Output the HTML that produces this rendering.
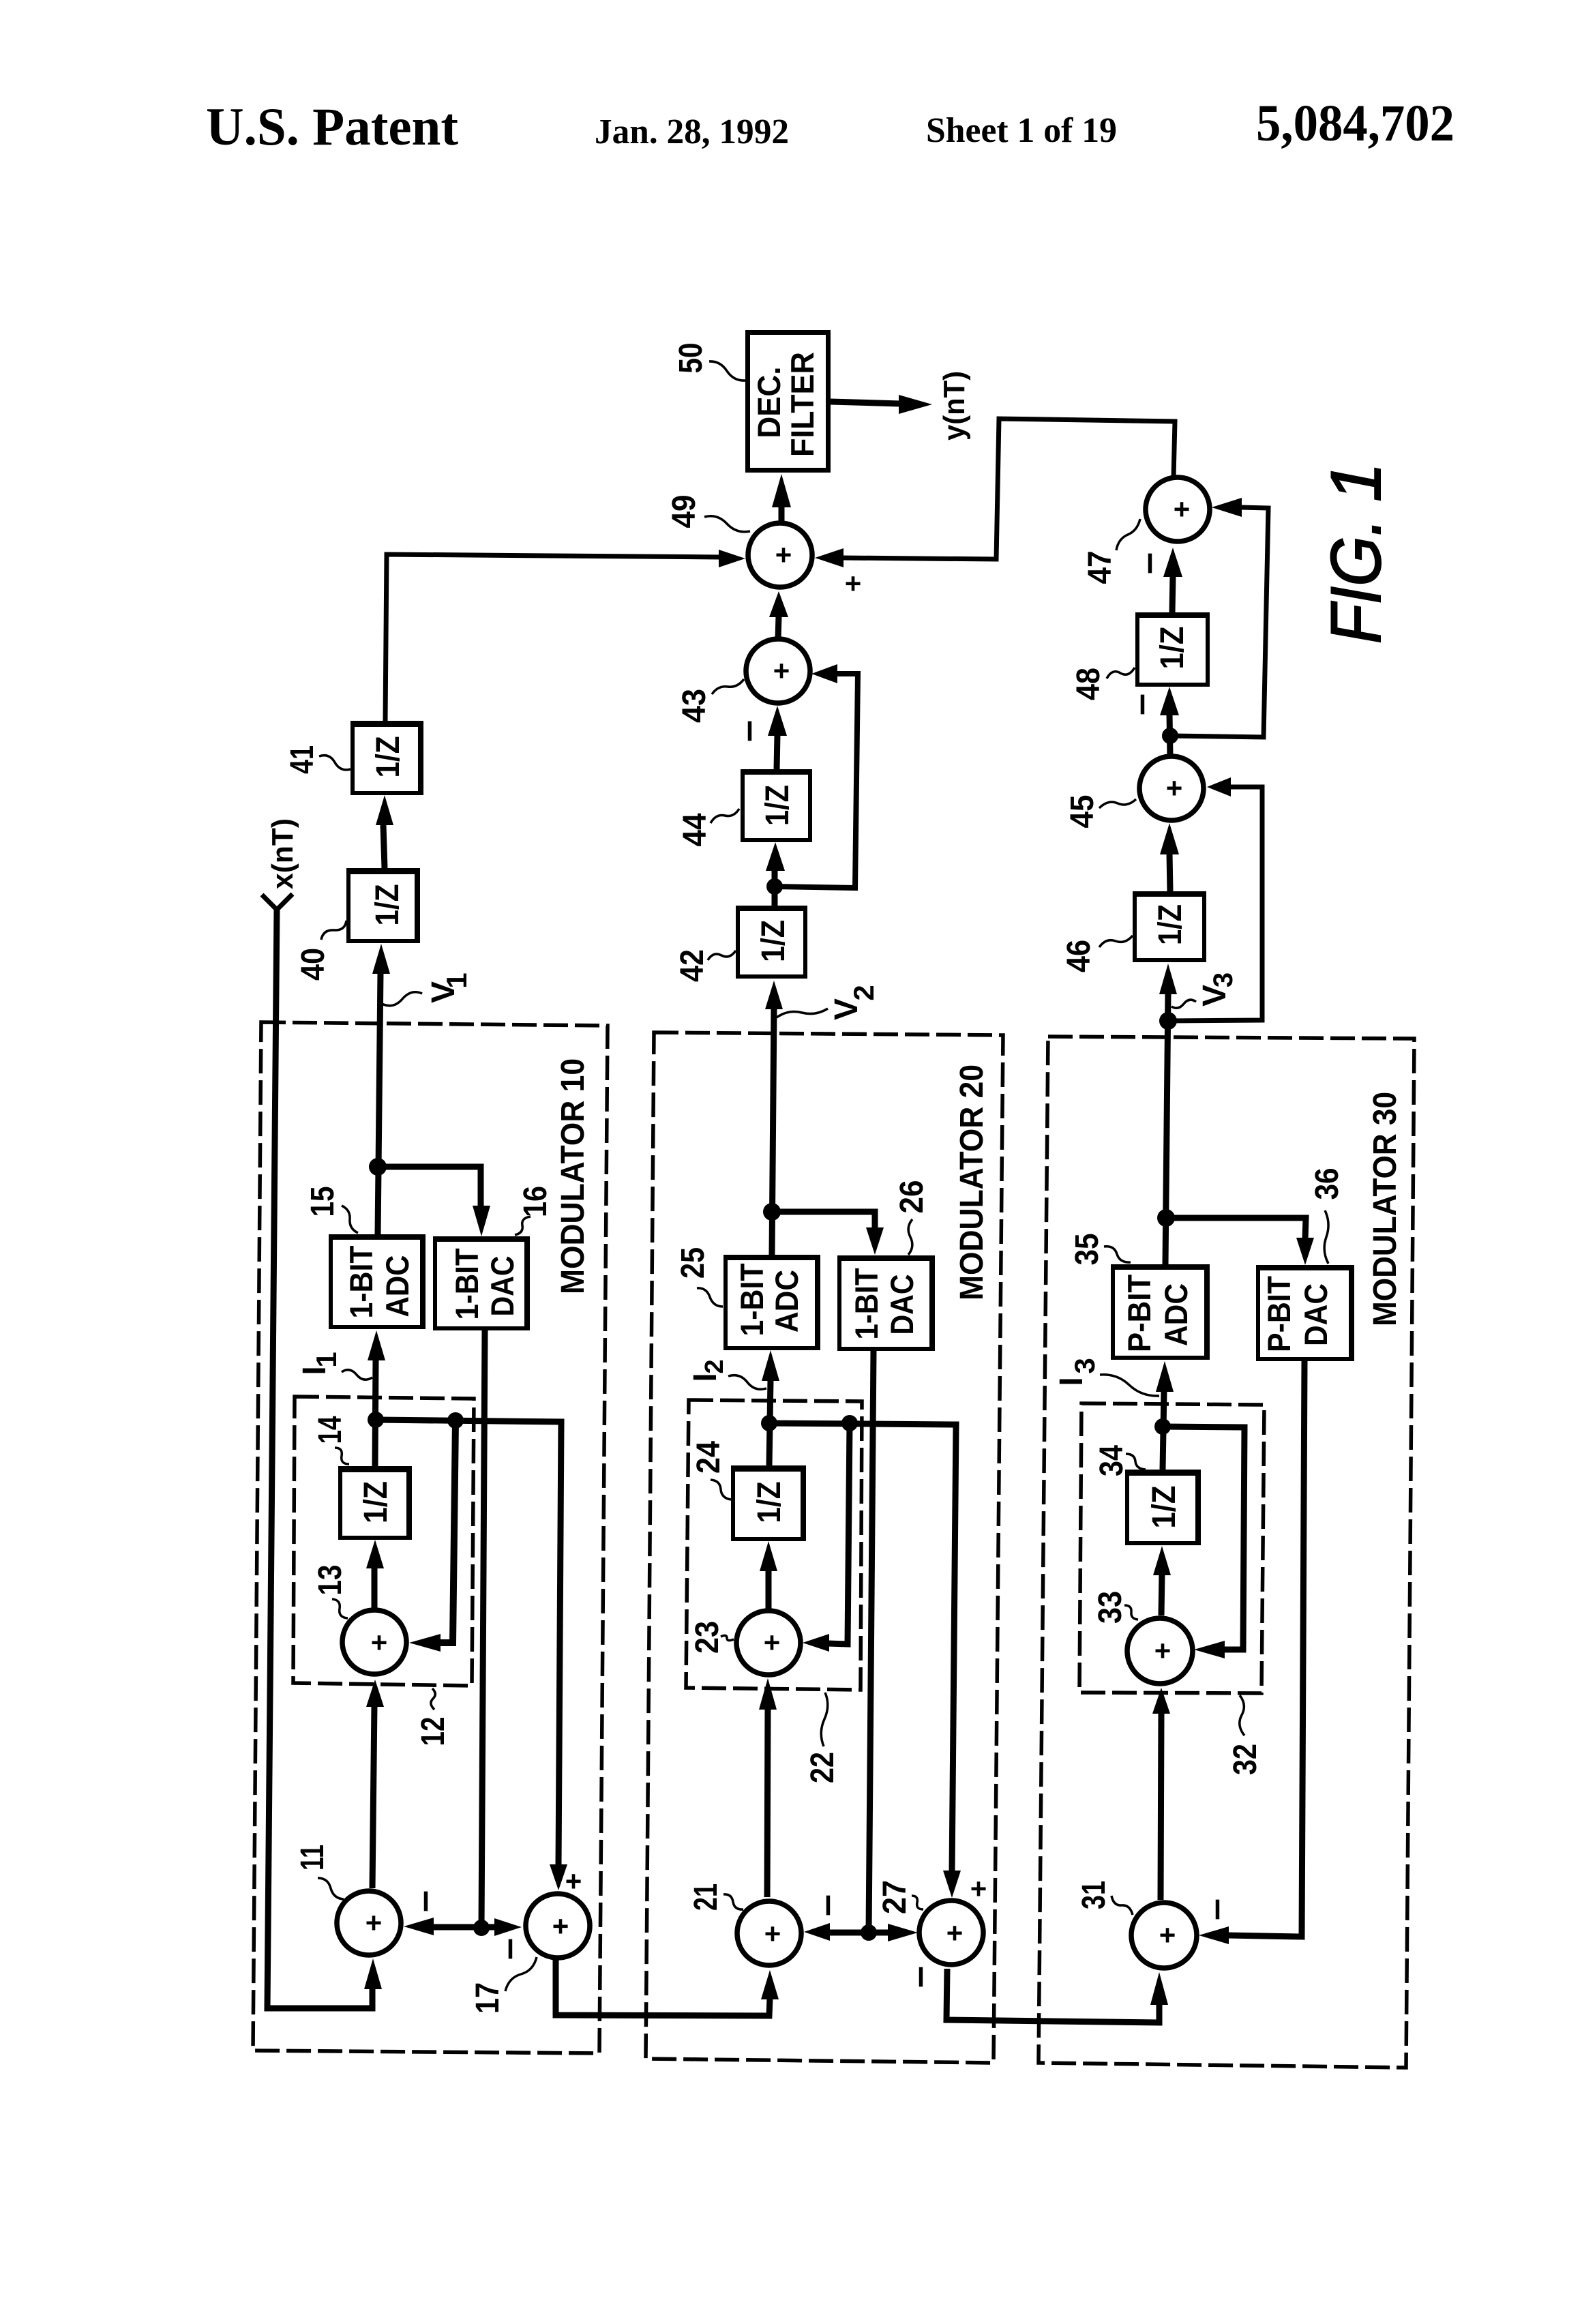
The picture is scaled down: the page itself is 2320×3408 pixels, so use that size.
<!DOCTYPE html>
<html><head><meta charset="utf-8"><title>U.S. Patent 5,084,702 Sheet 1</title>
<style>
html,body{margin:0;padding:0;background:#fff}
svg{display:block}
text{font-family:"Liberation Sans",sans-serif;font-weight:700;fill:#000;text-anchor:middle}
.h{font-family:"Liberation Serif",serif;text-anchor:start}
.n{font-size:48px}
.b{font-size:47px}
.z{font-size:48px}
.m{font-size:56px;font-weight:400;stroke:#000;stroke-width:1.5}
.p{font-size:42px}
.w{fill:none;stroke:#000;stroke-width:9;stroke-linejoin:miter}
.t{fill:none;stroke:#000;stroke-width:7;stroke-linejoin:miter}
.d{fill:none;stroke:#000;stroke-width:5.5;stroke-dasharray:36 10}
.s{fill:none;stroke:#000;stroke-width:3.5}
.c{fill:#fff;stroke:#000;stroke-width:7.5}
</style></head><body>
<svg xmlns="http://www.w3.org/2000/svg" width="2320" height="3408" viewBox="0 0 2320 3408">
<rect width="2320" height="3408" fill="#fff"/>

<!-- header -->
<text class="h" x="302" y="212" font-size="78" textLength="370" lengthAdjust="spacingAndGlyphs">U.S. Patent</text>
<text class="h" x="872" y="210" font-size="52" textLength="285" lengthAdjust="spacingAndGlyphs">Jan. 28, 1992</text>
<text class="h" x="1358" y="208" font-size="52" textLength="280" lengthAdjust="spacingAndGlyphs">Sheet 1 of 19</text>
<text class="h" x="1842" y="206" font-size="76" textLength="291" lengthAdjust="spacingAndGlyphs">5,084,702</text>

<!-- dashed boxes -->
<polygon class="d" points="383,1499 891,1504 879,3011 371,3007"/>
<polygon class="d" points="432,2048 695,2051 692,2472 430,2468"/>
<polygon class="d" points="959,1514 1471,1518 1457,3025 947,3019"/>
<polygon class="d" points="1010,2053 1264,2055 1262,2478 1006,2475"/>
<polygon class="d" points="1537,1520 2074,1523 2062,3032 1523,3025"/>
<polygon class="d" points="1586,2058 1854,2060 1850,2483 1583,2482"/>

<!-- x(nT) input -->
<polyline class="t" points="384,1312 406,1334 429,1311"/>
<polyline class="w" points="406,1332 392,2945 546,2945 546,2910"/>
<polygon points="547,2872 534,2917 560,2917"/>
<text transform="translate(429,1252) rotate(-90)" font-size="44" textLength="104" lengthAdjust="spacingAndGlyphs">x(nT)</text>

<!-- modulator 10 lines -->
<polyline class="w" points="546,2769 549,2500"/>
<polygon points="550,2463 537,2503 563,2503"/>
<polyline class="w" points="549,2358 549,2298"/>
<polygon points="550,2258 537,2300 563,2300"/>
<polyline class="w" points="550,2150 551,1993"/>
<polygon points="552,1951 539,1995 565,1995"/>
<polyline class="w" points="554,1810 558,1426"/>
<polygon points="559,1384 546,1428 572,1428"/>
<polyline class="w" points="554,1711 705,1711 705,1770"/>
<polygon points="706,1813 693,1768 719,1768"/>
<polyline class="w" points="551,2082 823,2085 819,2736"/>
<polygon points="819,2772 806,2734 832,2734"/>
<polyline class="w" style="stroke-width:10" points="668,2083 664,2409 644,2409"/>
<polygon points="600,2409 646,2396 646,2422"/>
<polyline class="w" points="711,1951 706,2827"/>
<polyline class="w" points="634,2826 727,2826"/>
<polygon points="592,2825 636,2812 636,2838"/>
<polygon points="765,2826 725,2813 725,2839"/>
<polyline class="w" points="815,2874 815,2955 1128,2956 1129,2930"/>
<polygon points="1129,2889 1116,2932 1142,2932"/>
<polyline class="w" points="562,1210 564,1273"/>
<polygon points="564,1166 551,1210 577,1210"/>
<polyline class="t" points="565,1057 567,813 1056,817"/>
<polygon points="1093,819 1054,806 1054,832"/>
<circle cx="554" cy="1711" r="13"/><circle cx="551" cy="2082" r="12"/><circle cx="668" cy="2083" r="12"/><circle cx="706" cy="2827" r="12"/>

<!-- modulator 20 lines -->
<polyline class="w" points="1125,2782 1126,2505"/>
<polygon points="1126,2461 1113,2507 1139,2507"/>
<polyline class="w" points="1127,2360 1127,2302"/>
<polygon points="1127,2260 1114,2304 1140,2304"/>
<polyline class="w" points="1128,2149 1130,2023"/>
<polygon points="1130,1980 1117,2025 1143,2025"/>
<polyline class="w" points="1132,1840 1135,1478"/>
<polygon points="1135,1438 1122,1480 1148,1480"/>
<polyline class="w" points="1132,1777 1283,1777 1283,1802"/>
<polygon points="1283,1840 1270,1800 1296,1800"/>
<polyline class="w" points="1128,2087 1402,2089 1396,2745"/>
<polygon points="1396,2783 1383,2743 1409,2743"/>
<polyline class="w" points="1246,2087 1243,2411 1214,2410"/>
<polygon points="1177,2409 1216,2396 1216,2422"/>
<polyline class="w" points="1281,1981 1274,2834"/>
<polyline class="w" points="1215,2834 1304,2834"/>
<polygon points="1179,2833 1217,2820 1217,2846"/>
<polygon points="1346,2834 1302,2821 1302,2847"/>
<polyline class="w" points="1389,2887 1388,2962 1700,2966 1700,2938"/>
<polygon points="1700,2892 1687,2940 1713,2940"/>
<circle cx="1132" cy="1777" r="13"/><circle cx="1128" cy="2087" r="12"/><circle cx="1246" cy="2087" r="12"/><circle cx="1274" cy="2834" r="12"/>

<!-- modulator 30 lines -->
<polyline class="w" points="1702,2786 1703,2511"/>
<polygon points="1703,2475 1690,2513 1716,2513"/>
<polyline class="w" points="1703,2369 1704,2308"/>
<polygon points="1704,2267 1691,2310 1717,2310"/>
<polyline class="w" points="1705,2155 1707,2039"/>
<polygon points="1708,1996 1695,2041 1721,2041"/>
<polyline class="w" points="1709,1854 1713,1456"/>
<polygon points="1713,1413 1700,1458 1726,1458"/>
<polyline class="w" points="1710,1786 1915,1786 1914,1817"/>
<polygon points="1914,1855 1901,1815 1927,1815"/>
<polyline class="w" points="1705,2092 1825,2093 1823,2419 1794,2419"/>
<polygon points="1751,2419 1796,2406 1796,2432"/>
<polyline class="w" points="1913,1996 1909,2840 1800,2838"/>
<polygon points="1758,2838 1802,2825 1802,2851"/>
<polyline class="t" points="1713,1497 1851,1496 1851,1154 1803,1154"/>
<polygon points="1770,1154 1805,1140 1805,1168"/>
<circle cx="1710" cy="1786" r="13"/><circle cx="1713" cy="1497" r="13"/><circle cx="1705" cy="2092" r="12"/>

<!-- output section lines -->
<polyline class="w" points="1146,770 1146,742"/>
<polygon points="1146,695 1132,744 1160,744"/>
<polyline class="w" points="1218,589 1320,592"/>
<polygon points="1367,593 1318,579 1318,607"/>
<polyline class="t" points="1235,818 1461,820 1465,614 1723,618 1721,700"/>
<polygon points="1195,818 1237,804 1237,832"/>
<polyline class="w" points="1141,938 1142,903"/>
<polygon points="1142,867 1128,905 1156,905"/>
<polyline class="t" style="stroke-width:8" points="1226,988 1258,988 1254,1302 1136,1300"/>
<polygon points="1190,988 1228,974 1228,1002"/>
<polyline class="w" points="1136,1328 1136,1275"/>
<polygon points="1137,1235 1123,1277 1151,1277"/>
<polyline class="w" points="1139,1128 1140,1077"/>
<polygon points="1140,1035 1126,1079 1154,1079"/>
<circle cx="1136" cy="1300" r="12"/>
<polyline class="t" points="1819,744 1860,745 1853,1081 1716,1079"/>
<polygon points="1777,744 1821,730 1821,758"/>
<polyline class="w" points="1719,898 1720,844"/>
<polygon points="1720,803 1706,846 1734,846"/>
<polyline class="w" points="1716,1110 1715,1047"/>
<polygon points="1715,1007 1701,1049 1729,1049"/>
<polyline class="w" points="1716,1307 1715,1251"/>
<polygon points="1715,1207 1701,1253 1729,1253"/>
<circle cx="1716" cy="1079" r="12"/>

<!-- blocks -->
<g>
<rect x="482" y="1810" width="142" height="139"/><rect x="488" y="1818" width="128" height="125" fill="#fff"/>
<rect x="635" y="1813" width="142" height="138"/><rect x="641" y="1821" width="128" height="124" fill="#fff"/>
<rect x="496" y="2150" width="108" height="108"/><rect x="502" y="2159" width="94" height="93" fill="#fff"/>
<rect x="508" y="1273" width="108" height="110"/><rect x="514" y="1282" width="94" height="95" fill="#fff"/>
<rect x="514" y="1057" width="107" height="109"/><rect x="520" y="1066" width="93" height="94" fill="#fff"/>
<rect x="1061" y="1840" width="142" height="140"/><rect x="1067" y="1848" width="128" height="126" fill="#fff"/>
<rect x="1228" y="1841" width="143" height="140"/><rect x="1234" y="1849" width="129" height="126" fill="#fff"/>
<rect x="1072" y="2149" width="110" height="111"/><rect x="1078" y="2158" width="96" height="96" fill="#fff"/>
<rect x="1629" y="1854" width="145" height="140"/><rect x="1635" y="1862" width="131" height="126" fill="#fff"/>
<rect x="1842" y="1855" width="144" height="141"/><rect x="1848" y="1863" width="130" height="127" fill="#fff"/>
<rect x="1650" y="2155" width="111" height="111"/><rect x="1656" y="2164" width="97" height="96" fill="#fff"/>
<rect x="1093" y="484" width="125" height="209"/><rect x="1100" y="491" width="111" height="195" fill="#fff"/>
<rect x="1086" y="1128" width="105" height="107"/><rect x="1092" y="1136" width="93" height="93" fill="#fff"/>
<rect x="1079" y="1328" width="105" height="107"/><rect x="1085" y="1336" width="93" height="93" fill="#fff"/>
<rect x="1665" y="898" width="109" height="109"/><rect x="1671" y="906" width="97" height="95" fill="#fff"/>
<rect x="1661" y="1307" width="108" height="104"/><rect x="1667" y="1315" width="96" height="90" fill="#fff"/>
</g>

<!-- block text -->
<text class="b" transform="translate(546,1880) rotate(-90)" textLength="107" lengthAdjust="spacingAndGlyphs">1-BIT</text>
<text class="b" transform="translate(599,1886) rotate(-90)" textLength="91" lengthAdjust="spacingAndGlyphs">ADC</text>
<text class="b" transform="translate(701,1883) rotate(-90)" textLength="105" lengthAdjust="spacingAndGlyphs">1-BIT</text>
<text class="b" transform="translate(753,1886) rotate(-90)" textLength="89" lengthAdjust="spacingAndGlyphs">DAC</text>
<text class="z" transform="translate(567,2203) rotate(-90)" textLength="62" lengthAdjust="spacingAndGlyphs">1/Z</text>
<text class="z" transform="translate(584,1327) rotate(-90)" textLength="61" lengthAdjust="spacingAndGlyphs">1/Z</text>
<text class="z" transform="translate(585,1110) rotate(-90)" textLength="61" lengthAdjust="spacingAndGlyphs">1/Z</text>
<text class="b" transform="translate(1119,1906) rotate(-90)" textLength="107" lengthAdjust="spacingAndGlyphs">1-BIT</text>
<text class="b" transform="translate(1170,1908) rotate(-90)" textLength="92" lengthAdjust="spacingAndGlyphs">ADC</text>
<text class="b" transform="translate(1287,1912) rotate(-90)" textLength="105" lengthAdjust="spacingAndGlyphs">1-BIT</text>
<text class="b" transform="translate(1339,1913) rotate(-90)" textLength="89" lengthAdjust="spacingAndGlyphs">DAC</text>
<text class="z" transform="translate(1144,2203) rotate(-90)" textLength="61" lengthAdjust="spacingAndGlyphs">1/Z</text>
<text class="b" transform="translate(1687,1926) rotate(-90)" textLength="114" lengthAdjust="spacingAndGlyphs">P-BIT</text>
<text class="b" transform="translate(1741,1928) rotate(-90)" textLength="92" lengthAdjust="spacingAndGlyphs">ADC</text>
<text class="b" transform="translate(1892,1927) rotate(-90)" textLength="112" lengthAdjust="spacingAndGlyphs">P-BIT</text>
<text class="b" transform="translate(1946,1928) rotate(-90)" textLength="92" lengthAdjust="spacingAndGlyphs">DAC</text>
<text class="z" transform="translate(1723,2210) rotate(-90)" textLength="63" lengthAdjust="spacingAndGlyphs">1/Z</text>
<text class="b" transform="translate(1144,590) rotate(-90)" textLength="105" lengthAdjust="spacingAndGlyphs">DEC.</text>
<text class="b" transform="translate(1193,593) rotate(-90)" textLength="154" lengthAdjust="spacingAndGlyphs">FILTER</text>
<text class="z" transform="translate(1156,1181) rotate(-90)" textLength="60" lengthAdjust="spacingAndGlyphs">1/Z</text>
<text class="z" transform="translate(1150,1380) rotate(-90)" textLength="62" lengthAdjust="spacingAndGlyphs">1/Z</text>
<text class="z" transform="translate(1735,950) rotate(-90)" textLength="63" lengthAdjust="spacingAndGlyphs">1/Z</text>
<text class="z" transform="translate(1732,1356) rotate(-90)" textLength="60" lengthAdjust="spacingAndGlyphs">1/Z</text>

<text transform="translate(856,1725) rotate(-90)" font-size="48" textLength="346" lengthAdjust="spacingAndGlyphs">MODULATOR 10</text>
<text transform="translate(1441,1734) rotate(-90)" font-size="48" textLength="346" lengthAdjust="spacingAndGlyphs">MODULATOR 20</text>
<text transform="translate(2047,1773) rotate(-90)" font-size="48" textLength="344" lengthAdjust="spacingAndGlyphs">MODULATOR 30</text>
<text transform="translate(1414,595) rotate(-90)" font-size="44" textLength="102" lengthAdjust="spacingAndGlyphs">y(nT)</text>
<text transform="translate(2024,852) rotate(-90)" font-size="104" font-style="italic" style="font-weight:400;stroke:#000;stroke-width:2" textLength="184" lengthAdjust="spacingAndGlyphs">FIG.</text>
<text transform="translate(2024,707) rotate(-90)" font-size="104" font-style="italic" style="font-weight:400;stroke:#000;stroke-width:2">1</text>

<!-- summing junctions -->
<circle class="c" cx="541" cy="2820" r="47"/><circle class="c" cx="549" cy="2408" r="47"/><circle class="c" cx="818" cy="2824" r="47"/>
<circle class="c" cx="1128" cy="2835" r="47"/><circle class="c" cx="1395" cy="2834" r="47"/><circle class="c" cx="1127" cy="2409" r="47"/>
<circle class="c" cx="1707" cy="2838" r="48"/><circle class="c" cx="1701" cy="2421" r="48"/>
<circle class="c" cx="1144" cy="814" r="47"/><circle class="c" cx="1141" cy="984" r="47"/><circle class="c" cx="1727" cy="747" r="47"/><circle class="c" cx="1718" cy="1156" r="47"/>
<text class="p" x="548" y="2834">+</text><text class="p" x="556" y="2423">+</text><text class="p" x="822" y="2839">+</text>
<text class="p" x="1133" y="2850">+</text><text class="p" x="1400" y="2849">+</text><text class="p" x="1132" y="2423">+</text>
<text class="p" x="1712" y="2852">+</text><text class="p" x="1705" y="2435">+</text>
<text class="p" x="1149" y="828">+</text><text class="p" x="1146" y="998">+</text><text class="p" x="1733" y="761">+</text><text class="p" x="1722" y="1170">+</text>

<!-- signs -->
<text class="p" x="841" y="2773">+</text><text class="p" x="1435" y="2784">+</text><text class="p" x="1251" y="870">+</text>
<text class="m" transform="translate(643,2788) rotate(-90)">−</text>
<text class="m" transform="translate(767,2858) rotate(-90)">−</text>
<text class="m" transform="translate(1233,2794) rotate(-90)">−</text>
<text class="m" transform="translate(1369,2899) rotate(-90)">−</text>
<text class="m" transform="translate(1804,2800) rotate(-90)">−</text>
<text class="m" transform="translate(1118,1072) rotate(-90)">−</text>
<text class="m" transform="translate(1705,826) rotate(-90)">−</text>
<text class="m" transform="translate(1694,1033) rotate(-90)">−</text>

<!-- reference numerals -->
<text class="n" transform="translate(474,2724) rotate(-90)" textLength="38" lengthAdjust="spacingAndGlyphs">11</text>
<text class="n" transform="translate(651,2539) rotate(-90)" textLength="43" lengthAdjust="spacingAndGlyphs">12</text>
<text class="n" transform="translate(500,2317) rotate(-90)" textLength="45" lengthAdjust="spacingAndGlyphs">13</text>
<text class="n" transform="translate(500,2097) rotate(-90)" textLength="41" lengthAdjust="spacingAndGlyphs">14</text>
<text class="n" transform="translate(489,1762) rotate(-90)" textLength="45" lengthAdjust="spacingAndGlyphs">15</text>
<text class="n" transform="translate(801,1762) rotate(-90)" textLength="46" lengthAdjust="spacingAndGlyphs">16</text>
<text class="n" transform="translate(731,2930) rotate(-90)" textLength="46" lengthAdjust="spacingAndGlyphs">17</text>
<text class="n" transform="translate(1051,2782) rotate(-90)" textLength="40" lengthAdjust="spacingAndGlyphs">21</text>
<text class="n" transform="translate(1222,2592) rotate(-90)" textLength="46" lengthAdjust="spacingAndGlyphs">22</text>
<text class="n" transform="translate(1053,2401) rotate(-90)" textLength="48" lengthAdjust="spacingAndGlyphs">23</text>
<text class="n" transform="translate(1055,2137) rotate(-90)" textLength="48" lengthAdjust="spacingAndGlyphs">24</text>
<text class="n" transform="translate(1032,1852) rotate(-90)" textLength="46" lengthAdjust="spacingAndGlyphs">25</text>
<text class="n" transform="translate(1353,1755) rotate(-90)" textLength="49" lengthAdjust="spacingAndGlyphs">26</text>
<text class="n" transform="translate(1328,2782) rotate(-90)" textLength="50" lengthAdjust="spacingAndGlyphs">27</text>
<text class="n" transform="translate(1620,2779) rotate(-90)" textLength="42" lengthAdjust="spacingAndGlyphs">31</text>
<text class="n" transform="translate(1842,2580) rotate(-90)" textLength="46" lengthAdjust="spacingAndGlyphs">32</text>
<text class="n" transform="translate(1644,2357) rotate(-90)" textLength="48" lengthAdjust="spacingAndGlyphs">33</text>
<text class="n" transform="translate(1646,2142) rotate(-90)" textLength="46" lengthAdjust="spacingAndGlyphs">34</text>
<text class="n" transform="translate(1610,1832) rotate(-90)" textLength="47" lengthAdjust="spacingAndGlyphs">35</text>
<text class="n" transform="translate(1962,1736) rotate(-90)" textLength="47" lengthAdjust="spacingAndGlyphs">36</text>
<text class="n" transform="translate(475,1414) rotate(-90)" textLength="48" lengthAdjust="spacingAndGlyphs">40</text>
<text class="n" transform="translate(459,1114) rotate(-90)" textLength="42" lengthAdjust="spacingAndGlyphs">41</text>
<text class="n" transform="translate(1031,1416) rotate(-90)" textLength="48" lengthAdjust="spacingAndGlyphs">42</text>
<text class="n" transform="translate(1034,1035) rotate(-90)" textLength="50" lengthAdjust="spacingAndGlyphs">43</text>
<text class="n" transform="translate(1035,1217) rotate(-90)" textLength="49" lengthAdjust="spacingAndGlyphs">44</text>
<text class="n" transform="translate(1603,1190) rotate(-90)" textLength="49" lengthAdjust="spacingAndGlyphs">45</text>
<text class="n" transform="translate(1598,1402) rotate(-90)" textLength="48" lengthAdjust="spacingAndGlyphs">46</text>
<text class="n" transform="translate(1629,832) rotate(-90)" textLength="49" lengthAdjust="spacingAndGlyphs">47</text>
<text class="n" transform="translate(1612,1003) rotate(-90)" textLength="48" lengthAdjust="spacingAndGlyphs">48</text>
<text class="n" transform="translate(1019,750) rotate(-90)" textLength="49" lengthAdjust="spacingAndGlyphs">49</text>
<text class="n" transform="translate(1029,525) rotate(-90)" textLength="45" lengthAdjust="spacingAndGlyphs">50</text>

<!-- signal names -->
<text class="n" transform="translate(666,1455) rotate(-90)">V</text><text transform="translate(684,1438) rotate(-90)" font-size="42">1</text>
<text class="n" transform="translate(477,2010) rotate(-90)">I</text><text transform="translate(493,1994) rotate(-90)" font-size="42">1</text>
<text class="n" transform="translate(1257,1480) rotate(-90)">V</text><text transform="translate(1281,1456) rotate(-90)" font-size="42">2</text>
<text class="n" transform="translate(1050,2020) rotate(-90)">I</text><text transform="translate(1060,2004) rotate(-90)" font-size="38">2</text>
<text class="n" transform="translate(1797,1460) rotate(-90)">V</text><text transform="translate(1807,1437) rotate(-90)" font-size="40">3</text>
<text class="n" transform="translate(1587,2026) rotate(-90)">I</text><text transform="translate(1605,2003) rotate(-90)" font-size="42">3</text>

<!-- leader squiggles -->
<g class="s">
<path d="M501 1768Q514 1774 513 1788T525 1808"/>
<path d="M778 1784Q764 1786 766 1797T755 1811"/>
<path d="M501 2012Q513 2004 523 2016T546 2020"/>
<path d="M560 1472Q577 1480 590 1465T619 1457"/>
<path d="M471 1378Q474 1363 490 1364T508 1350"/>
<path d="M468 1109Q483 1104 491 1118T514 1128"/>
<path d="M491 2123Q503 2123 501 2135T512 2147"/>
<path d="M487 2345Q500 2346 498 2359T510 2373"/>
<path d="M634 2476Q642 2484 635 2491T637 2507"/>
<path d="M466 2754Q481 2754 485 2769T504 2785"/>
<path d="M741 2920Q746 2900 764 2895T787 2870"/>
<path d="M1022 1889Q1036 1888 1041 1902T1060 1916"/>
<path d="M1338 1788Q1328 1800 1335 1814T1332 1840"/>
<path d="M1139 1492Q1156 1480 1176 1485T1214 1479"/>
<path d="M1068 2018Q1085 2013 1096 2027T1124 2036"/>
<path d="M1042 2170Q1056 2171 1057 2184T1072 2199"/>
<path d="M1057 2400Q1066 2396 1066 2402T1076 2404"/>
<path d="M1210 2482Q1218 2501 1209 2521T1208 2561"/>
<path d="M1061 2778Q1073 2777 1075 2789T1090 2800"/>
<path d="M1337 2780Q1347 2780 1345 2790T1354 2800"/>
<path d="M1619 1828Q1634 1826 1638 1839T1658 1851"/>
<path d="M1943 1775Q1952 1794 1945 1814T1948 1853"/>
<path d="M1613 2016Q1638 2014 1656 2031T1700 2047"/>
<path d="M1718 1476Q1728 1482 1736 1472T1754 1469"/>
<path d="M1651 2132Q1664 2132 1665 2143T1680 2155"/>
<path d="M1649 2354Q1660 2354 1659 2364T1669 2375"/>
<path d="M1818 2486Q1829 2500 1821 2515T1825 2545"/>
<path d="M1040 530Q1056 529 1066 544T1093 558"/>
<path d="M1033 758Q1052 753 1066 768T1100 779"/>
<path d="M1044 1018Q1053 1005 1067 1007T1091 996"/>
<path d="M1042 1207Q1050 1193 1063 1196T1084 1186"/>
<path d="M1038 1408Q1046 1395 1058 1401T1079 1394"/>
<path d="M1630 2780Q1633 2795 1645 2794T1661 2808"/>
<path d="M1637 807Q1640 790 1654 784T1672 761"/>
<path d="M1623 995Q1631 980 1643 987T1664 979"/>
<path d="M1612 1185Q1625 1172 1639 1178T1666 1172"/>
<path d="M1612 1389Q1622 1375 1636 1380T1661 1372"/>
</g>
</svg>
</body></html>
